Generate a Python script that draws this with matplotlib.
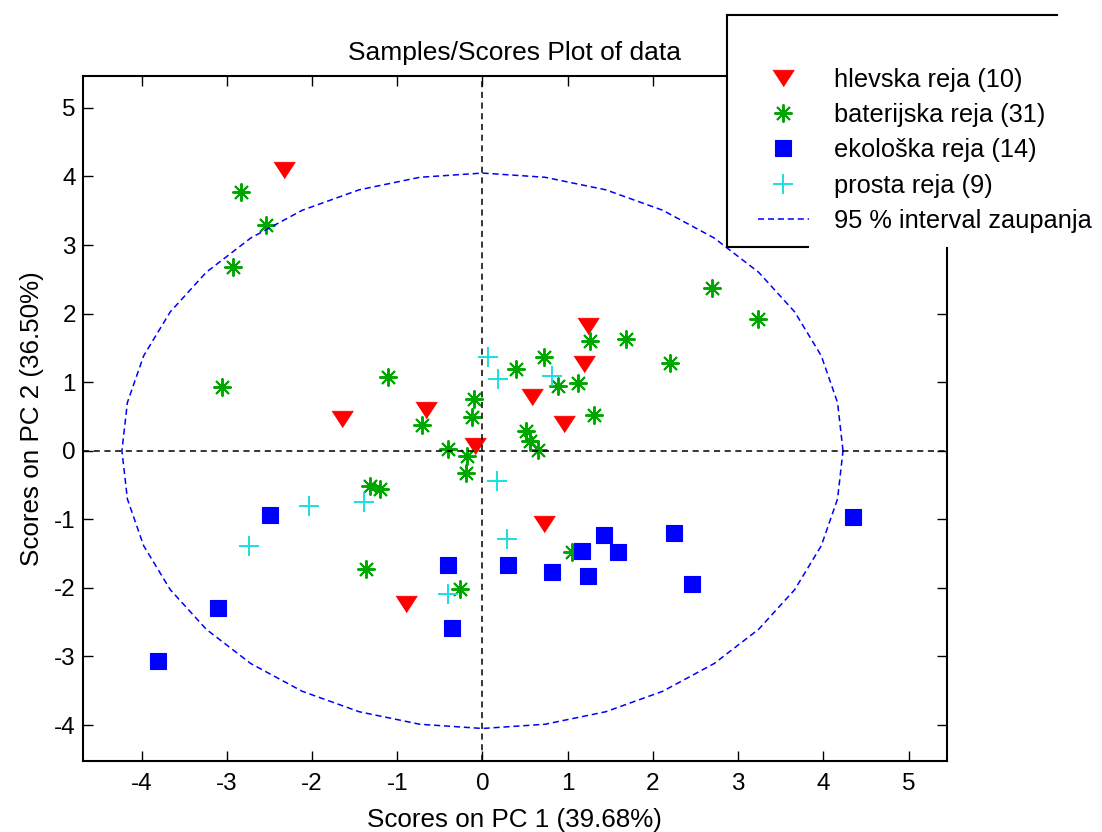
import numpy as np
import matplotlib
matplotlib.use("Agg")
import matplotlib.pyplot as plt
from matplotlib.lines import Line2D
from matplotlib.patches import Rectangle

plt.rcParams['font.family'] = ['Liberation Sans', 'DejaVu Sans']
plt.rcParams['axes.unicode_minus'] = False

# PCA scores
hlevska_x = [-2.33, -1.645, -0.663, -0.088, 1.235, 1.19, 0.577, 0.953, 0.722, -0.898]
hlevska_y = [4.10, 0.467, 0.588, 0.063, 1.813, 1.27, 0.79, 0.39, -1.07, -2.23]

baterijska_x = [-2.838, -2.54, -2.93, -3.05, -1.105, -0.103, -0.123, -0.71, -0.401, -0.18,
                -0.195, -1.32, -1.203, -1.367, -0.264, 1.05, 2.69, 3.23, 1.262, 1.684,
                2.197, 0.722, 0.393, 0.882, 1.117, 1.309, 0.51, 0.557, 0.648]
baterijska_y = [3.78, 3.29, 2.68, 0.929, 1.075, 0.758, 0.49, 0.375, 0.029, -0.078,
                -0.32, -0.52, -0.554, -1.72, -2.013, -1.48, 2.38, 1.915, 1.594, 1.63,
                1.279, 1.366, 1.19, 0.948, 0.987, 0.525, 0.292, 0.146, 0.015]

ekoloska_x = [-2.49, -3.10, -3.805, -0.405, -0.358, 0.296, 0.816, 1.164, 1.235, 1.422,
              1.587, 2.244, 2.455, 4.352]
ekoloska_y = [-0.933, -2.30, -3.06, -1.663, -2.59, -1.663, -1.775, -1.459, -1.833, -1.225,
              -1.483, -1.196, -1.95, -0.963]

prosta_x = [0.068, 0.185, 0.812, 0.166, 0.284, -1.391, -2.04, -2.744, -0.405]
prosta_y = [1.366, 1.05, 1.084, -0.438, -1.284, -0.754, -0.812, -1.396, -2.096]

# 95 % confidence ellipse semi-axes
ell_a = 4.23
ell_b = 4.05

labels = ['hlevska reja (10)', 'baterijska reja (31)', 'ekološka reja (14)',
          'prosta reja (9)', '95 % interval zaupanja']
xticks = [-4, -3, -2, -1, 0, 1, 2, 3, 4, 5]
yticks = [-4, -3, -2, -1, 0, 1, 2, 3, 4, 5]

W, H = 1102, 832
fig = plt.figure(figsize=(W / 100, H / 100), dpi=100)
ax = fig.add_axes([82.7 / W, 1 - 760.7 / H, (947 - 82.7) / W, (760.7 - 75.7) / H])

tri = [(-1, 0.77), (1, 0.77), (0, -0.77)]
h1, = ax.plot(hlevska_x, hlevska_y, linestyle='none', marker=tri, ms=15.5,
              mfc='#ff0000', mec='#ff0000', mew=0.5)
h2, = ax.plot(baterijska_x, baterijska_y, linestyle='none', marker=(8, 2, 0), ms=13,
              mec='#00a600', mew=1.4)
h3, = ax.plot(ekoloska_x, ekoloska_y, linestyle='none', marker='s', ms=12,
              mfc='#0000ff', mec='#0000ff', mew=0.8)
h4, = ax.plot(prosta_x, prosta_y, linestyle='none', marker='+', ms=14,
              mec='#18e0e0', mew=1.4)

t = np.linspace(0, 2 * np.pi, 37)
h5, = ax.plot(ell_a * np.cos(t), ell_b * np.sin(t), color='#0000ff', lw=1.1,
              linestyle=(0, (4, 2.5)), zorder=3)

ax.axhline(0, color='black', lw=1.1, linestyle=(0, (4, 3)), zorder=3)
ax.axvline(0, color='black', lw=1.1, linestyle=(0, (4, 3)), zorder=3)

ax.set_xlim(-4.69, 5.45)
ax.set_ylim(-4.52, 5.47)
ax.set_xticks(xticks)
ax.set_yticks(yticks)
ax.tick_params(direction='in', length=7, width=1.0, top=True, right=True, labelsize=17.5)
ax.tick_params(axis='x', pad=9)
ax.tick_params(axis='y', pad=5)
for sp in ax.spines.values():
    sp.set_linewidth(1.5)

ax.set_title('Samples/Scores Plot of data', fontsize=19, pad=11)
ax.set_xlabel('Scores on PC 1 (39.68%)', fontsize=18.7, labelpad=9)
ax.set_ylabel('Scores on PC 2 (36.50%)', fontsize=18.7, labelpad=7)

# legend box (white, partially framed as in the original export)
fig.patches.append(Rectangle((727 / W, 1 - 247 / H), (W - 727) / W, (247 - 15) / H,
                             transform=fig.transFigure, facecolor='white',
                             edgecolor='none', zorder=1))
for xs, ys in [((727, 1057), (15, 15)), ((727, 727), (15, 247)), ((727, 808), (247, 247))]:
    fig.lines.append(Line2D([x / W for x in xs], [1 - y / H for y in ys],
                            transform=fig.transFigure, color='black', lw=1.5, zorder=2))

fig.legend([h1, h2, h3, h4, h5], labels, loc='upper left',
           bbox_to_anchor=(758 / W, 1 - 68 / H), frameon=False, fontsize=18.3,
           borderpad=0, borderaxespad=0, handlelength=2.0, handletextpad=1.0,
           labelspacing=0.44)

fig.savefig('out.png', dpi=100)
